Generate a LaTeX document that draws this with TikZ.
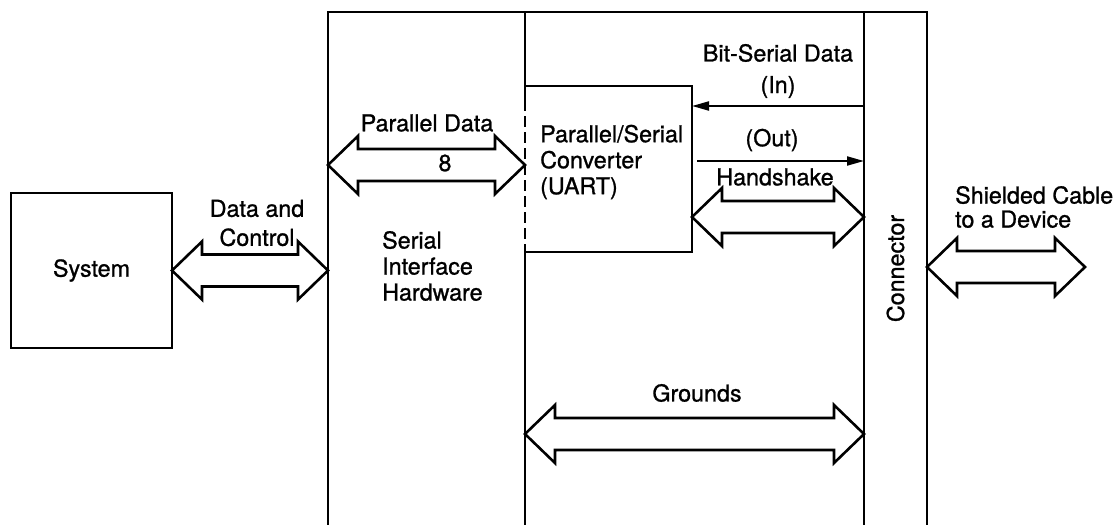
\documentclass[tikz,border=0pt]{standalone}
\usepackage{fontspec}
\setmainfont[FakeBold=1]{TeX Gyre Heros}
\usepackage{tikz}
\usetikzlibrary{arrows.meta, positioning, calc}

\begin{document}
\begin{tikzpicture}[
    x=1pt, y=-1pt,
    wire/.style={line width=2.8pt},
    region/.style={rectangle, inner sep=0pt, outer sep=0pt},
    box/.style={region, draw, line width=2.8pt},
    lbl/.style={font=\fontsize{23.3}{26}\selectfont, inner sep=0pt},
    sig/.style={line width=2pt, -{Triangle[length=17pt, width=9pt]}},
    fat/.style={line width=2.6pt, line join=miter, to path={
        let \p1=(\tikztostart), \p2=(\tikztotarget) in
        (\x1,\y1) -- (\x1+30pt,\y1+29pt) -- (\x1+30pt,\y1+16pt) -- (\x2-30pt,\y1+16pt)
        -- (\x2-30pt,\y1+29pt) -- (\x2,\y1) -- (\x2-30pt,\y1-29pt) -- (\x2-30pt,\y1-16pt)
        -- (\x1+30pt,\y1-16pt) -- (\x1+30pt,\y1-29pt) -- cycle}}
]
\useasboundingbox (0,0) rectangle (1120,525);

% Blocks
\node[box, minimum width=161pt, minimum height=155pt] (sys) at (91.5,270.5) {};
\node[region, minimum width=197pt, minimum height=513pt] (sih) at (426.5,268.5) {};
\node[region, minimum width=167pt, minimum height=166pt] (uart) at (608.5,169) {};
\node[region, minimum width=63pt, minimum height=513pt] (conn) at (895.5,268.5) {};
\coordinate (dev) at (1085,267);

% Frame and inner lines
\draw[wire] (sih.south west) |- (conn.north east) -- (conn.south east);
\draw[wire] (sih.north east) -- (525,100);
\draw[wire, dash pattern=on 11pt off 5pt] (525,100) -- (525,246);
\draw[wire] (525,246) -- (sih.south east);
\draw[wire] (conn.north west) -- (conn.south west);
\draw[wire] (uart.north west) -| (uart.south east) -- (uart.south west);

% Labels
\node[lbl] at (sys.center) {System};
\node[lbl, align=center] at (257,223) {Data and\\[3pt]Control};
\node[lbl] at (427,123) {Parallel Data};
\node[lbl] at (445,163) {8};
\node[lbl, align=left, anchor=west] at (382,266) {Serial\\Interface\\Hardware};
\node[lbl, align=left, anchor=west] at (540,162) {Parallel/Serial\\Converter\\(UART)};
\node[lbl] at (778,53) {Bit-Serial Data};
\node[lbl] at (778,87) {(In)};
\node[lbl] at (772,140) {(Out)};
\node[lbl] at (775,177) {Handshake};
\node[lbl, rotate=90] at (conn.center) {Connector};
\node[lbl, align=left, anchor=west] at (955,207) {Shielded Cable\\[-2pt]to a Device};
\node[lbl] at (697,393) {Grounds};

% Signal arrows
\draw[sig] (conn.west |- 0,106) -- (uart.east |- 0,106);
\draw[sig] ([xshift=5pt]uart.east |- 0,161) -- (conn.west |- 0,161);

% Buses
\draw[fat] (sys.east) to (sih.west |- sys.east);
\draw[fat] (sih.west |- 0,165) to (uart.west |- 0,165);
\draw[fat] (uart.east |- 0,217) to (conn.west |- 0,217);
\draw[fat] (uart.west |- 0,434) to (conn.west |- 0,434);
\draw[fat] (conn.east |- dev) to (dev);

\end{tikzpicture}
\end{document}
